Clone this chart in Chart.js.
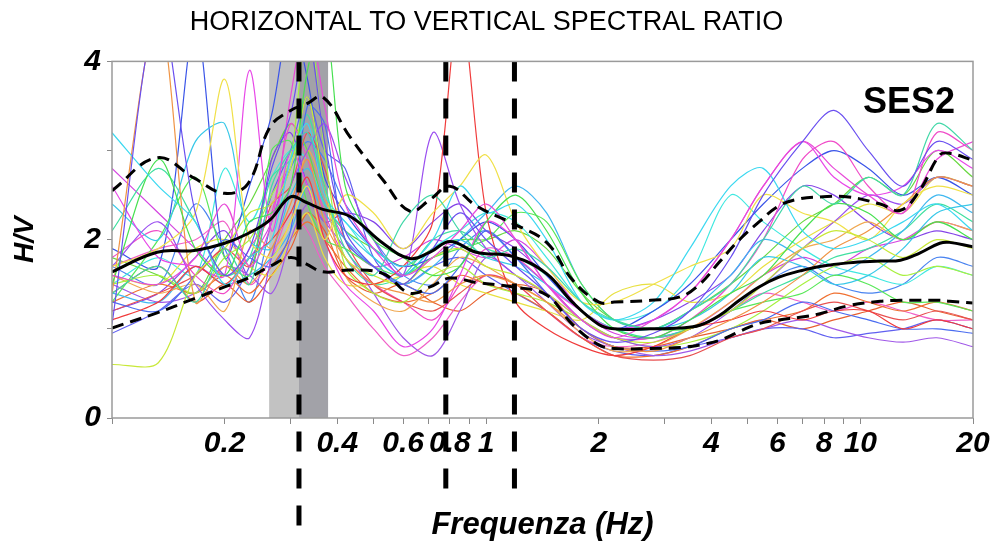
<!DOCTYPE html>
<html>
<head>
<meta charset="utf-8">
<title>H/V SES2</title>
<script src="https://cdn.jsdelivr.net/npm/chart.js@4.4.1/dist/chart.umd.min.js"></script>
<style>
    html, body { margin: 0; padding: 0; background: #fff; }
</style>
</head>
<body>
<canvas id="hvChart" width="995" height="544"></canvas>
<script>
// frequency grid of the single-window curves (Hz)
const curveHz = [0.1, 0.133, 0.167, 0.2, 0.233, 0.267, 0.3, 0.333, 0.37, 0.42, 0.5, 0.6, 0.72, 0.85, 1.0,
    1.2, 1.45, 1.8, 2.2, 2.8, 3.5, 4.5, 5.5, 7, 8.5, 10.5, 13, 16, 20];

// H/V of every window
const windowCurves = [
    [1.05, 4.6, 2.3, 1.6, 1.9, 2.8, 3.4, 4.3, 3.1, 2.1, 1.7, 1.5, 1.9, 2.3, 2.0, 1.7, 1.4, 1.0, 0.85, 0.95, 1.2, 1.8, 2.5, 3.1, 3.45, 3.0, 2.6, 3.1, 2.9],
    [1.6, 1.5, 1.8, 2.4, 1.7, 2.2, 3.6, 4.5, 3.5, 2.4, 1.9, 1.6, 1.8, 2.1, 2.4, 2.0, 1.5, 1.1, 0.9, 1.1, 1.4, 2.0, 2.6, 3.1, 2.8, 2.5, 2.3, 2.9, 3.1],
    [1.4, 1.7, 1.3, 1.9, 1.5, 2.6, 3.0, 3.2, 2.6, 1.9, 1.6, 2.2, 2.5, 2.1, 1.8, 1.9, 1.7, 1.3, 1.1, 1.0, 1.2, 1.5, 2.0, 2.6, 2.4, 2.7, 2.5, 3.3, 3.0],
    [3.2, 2.6, 2.2, 1.5, 1.8, 2.0, 2.9, 3.3, 2.5, 2.2, 1.9, 1.7, 2.0, 2.6, 2.3, 2.4, 2.0, 1.3, 1.1, 1.3, 1.9, 2.6, 2.8, 2.1, 1.9, 2.0, 2.2, 2.4, 2.1],
    [1.5, 2.9, 1.9, 1.6, 2.2, 2.3, 2.6, 3.9, 4.5, 2.6, 2.0, 1.8, 1.6, 1.7, 2.2, 2.5, 2.1, 1.4, 1.0, 0.9, 1.1, 1.4, 1.6, 2.1, 2.4, 2.3, 2.0, 2.2, 2.0],
    [0.6, 0.62, 1.6, 1.9, 2.3, 2.4, 2.8, 3.6, 2.6, 1.8, 1.6, 1.5, 1.8, 1.9, 1.7, 1.6, 1.4, 1.1, 0.9, 0.85, 1.0, 1.2, 1.5, 1.9, 2.1, 2.0, 1.8, 2.0, 1.9],
    [1.7, 1.9, 2.3, 3.8, 2.0, 1.8, 2.2, 2.6, 2.0, 2.5, 2.3, 1.9, 2.3, 2.6, 2.95, 2.2, 1.7, 1.3, 1.3, 1.5, 1.7, 1.9, 2.5, 2.3, 2.2, 2.0, 2.4, 2.6, 2.5],
    [1.4, 4.5, 1.3, 1.7, 1.5, 1.9, 2.4, 2.9, 2.2, 1.8, 1.5, 1.4, 1.3, 1.5, 1.6, 1.5, 1.3, 1.0, 0.8, 0.75, 0.9, 1.1, 1.3, 1.6, 1.9, 2.1, 2.4, 2.7, 2.6],
    [1.1, 1.3, 1.7, 1.5, 1.8, 2.0, 2.3, 2.7, 2.0, 1.6, 1.5, 1.7, 2.2, 4.6, 2.3, 1.3, 1.0, 0.8, 0.7, 0.8, 1.0, 1.1, 1.2, 1.1, 1.2, 1.2, 1.0, 1.1, 1.0],
    [2.6, 1.8, 1.7, 1.6, 3.9, 2.1, 3.0, 2.6, 2.0, 1.5, 1.2, 0.8, 1.0, 1.6, 2.2, 2.0, 1.5, 1.2, 1.0, 1.1, 1.4, 2.0, 2.6, 3.1, 2.7, 2.5, 2.6, 3.0, 2.8],
    [1.7, 2.2, 1.5, 1.1, 0.9, 1.8, 2.6, 3.0, 3.3, 2.7, 2.0, 1.6, 3.2, 2.4, 1.9, 1.6, 1.4, 1.1, 0.9, 0.8, 0.9, 1.2, 1.5, 1.9, 2.2, 2.5, 2.4, 2.7, 2.6],
    [1.3, 1.2, 1.6, 2.0, 1.8, 1.7, 2.1, 3.5, 3.3, 2.0, 1.7, 1.5, 1.4, 1.7, 2.1, 1.8, 1.4, 1.0, 0.8, 0.75, 0.8, 1.0, 1.1, 1.3, 1.2, 1.1, 1.0, 1.0, 0.95],
    [2.4, 2.0, 3.1, 3.3, 2.0, 1.9, 2.5, 2.8, 2.4, 2.1, 1.8, 1.6, 1.9, 2.0, 1.8, 1.7, 1.5, 1.2, 1.0, 1.0, 1.1, 1.4, 1.8, 1.7, 1.5, 1.6, 1.9, 2.3, 2.4],
    [1.3, 2.0, 2.7, 1.8, 1.6, 3.0, 3.1, 2.4, 2.0, 1.9, 1.7, 1.6, 1.8, 1.9, 2.0, 2.3, 2.2, 1.5, 1.1, 1.0, 1.0, 1.2, 1.3, 1.4, 1.6, 1.5, 1.3, 1.3, 1.2],
    [1.5, 1.6, 1.4, 1.8, 2.0, 2.5, 2.9, 4.5, 3.0, 1.7, 1.4, 1.3, 1.6, 1.7, 1.5, 1.4, 1.3, 1.1, 0.9, 0.8, 0.85, 1.0, 1.2, 1.5, 1.7, 1.8, 1.6, 1.7, 1.6],
    [1.6, 1.4, 1.5, 1.2, 2.1, 1.9, 2.2, 3.0, 2.5, 1.6, 1.3, 1.2, 1.5, 1.8, 1.7, 1.5, 1.3, 0.95, 0.75, 0.8, 1.0, 1.3, 1.6, 1.9, 2.0, 2.2, 2.0, 2.2, 2.1],
    [1.2, 1.4, 1.6, 1.9, 1.7, 2.4, 2.6, 3.2, 2.8, 2.0, 1.5, 1.3, 1.2, 1.4, 1.6, 1.5, 1.2, 0.9, 0.7, 0.65, 0.7, 0.9, 1.0, 1.2, 1.3, 1.2, 1.1, 1.2, 1.1],
    [1.8, 2.1, 1.6, 1.4, 1.9, 2.3, 3.3, 2.9, 2.3, 1.8, 1.5, 1.3, 1.1, 1.5, 1.9, 1.8, 1.5, 1.1, 0.9, 0.9, 1.1, 1.5, 2.0, 2.9, 3.1, 2.6, 2.3, 3.2, 3.0],
    [1.5, 1.3, 1.4, 1.7, 1.6, 1.4, 2.0, 2.4, 2.2, 1.9, 1.4, 0.9, 0.7, 1.2, 1.8, 1.6, 1.3, 0.95, 0.8, 0.7, 0.75, 0.9, 1.0, 1.1, 1.0, 0.9, 0.85, 0.9, 0.8],
    [1.9, 1.7, 4.4, 1.8, 2.6, 3.4, 4.5, 3.8, 2.7, 2.3, 1.9, 1.7, 1.8, 2.0, 2.2, 2.0, 1.6, 1.2, 1.0, 1.2, 1.5, 2.0, 2.4, 2.8, 3.0, 2.8, 2.5, 2.7, 2.5],
    [1.4, 1.3, 1.7, 1.5, 1.6, 1.8, 2.1, 2.6, 2.3, 2.0, 1.7, 1.5, 1.7, 2.0, 2.3, 2.6, 2.3, 1.5, 1.1, 1.0, 1.2, 1.6, 2.0, 1.8, 1.6, 1.8, 2.1, 2.5, 2.3],
    [2.1, 2.8, 2.2, 1.6, 1.8, 2.7, 2.9, 3.4, 2.6, 1.8, 1.5, 1.6, 2.0, 2.1, 1.9, 1.8, 1.6, 1.2, 1.0, 0.9, 1.0, 1.2, 1.4, 1.6, 1.8, 1.9, 2.1, 2.4, 2.2],
    [1.6, 1.5, 1.9, 2.0, 1.7, 1.6, 2.0, 2.3, 1.8, 1.5, 1.5, 1.6, 1.7, 1.5, 1.4, 1.3, 1.2, 1.1, 1.4, 1.5, 1.3, 1.4, 1.7, 2.0, 2.2, 2.4, 2.3, 2.7, 2.6],
    [1.3, 1.5, 1.4, 1.6, 1.4, 1.7, 2.0, 2.2, 2.0, 1.7, 1.4, 1.3, 1.4, 1.6, 1.5, 1.4, 1.2, 0.9, 0.7, 0.7, 0.8, 1.0, 1.1, 1.2, 1.4, 1.3, 1.2, 1.3, 1.2],
    [1.7, 1.9, 2.0, 2.2, 1.5, 1.8, 2.3, 2.1, 1.7, 1.4, 1.0, 0.7, 0.9, 1.3, 1.6, 1.5, 1.2, 0.9, 0.8, 0.85, 1.0, 1.2, 1.4, 1.3, 1.2, 1.3, 1.2, 1.1, 1.1],
    [1.2, 1.4, 1.8, 2.1, 1.6, 2.9, 3.2, 2.6, 2.2, 2.3, 2.2, 1.9, 2.2, 2.4, 2.1, 1.9, 1.6, 1.2, 1.0, 1.1, 1.3, 1.6, 2.1, 2.6, 2.5, 2.2, 2.0, 2.1, 2.0],
    [0.95, 1.2, 1.5, 1.3, 1.7, 2.5, 3.0, 3.6, 3.0, 2.8, 1.8, 1.5, 1.7, 1.8, 1.6, 1.4, 1.2, 0.9, 0.75, 0.7, 0.8, 0.9, 1.0, 1.0, 0.9, 0.95, 1.0, 1.1, 1.0],
    [1.5, 1.8, 1.6, 2.8, 2.2, 2.7, 3.0, 2.9, 2.4, 2.2, 1.8, 1.6, 1.9, 2.1, 2.3, 2.2, 1.8, 1.3, 1.1, 1.2, 1.6, 2.5, 2.2, 1.9, 1.7, 1.6, 1.5, 1.7, 1.6],
    [1.8, 1.6, 1.4, 2.0, 2.4, 2.9, 3.3, 3.0, 2.4, 2.1, 1.9, 1.7, 1.9, 2.0, 2.0, 2.1, 1.9, 1.4, 1.1, 1.0, 1.2, 1.5, 1.8, 2.2, 2.4, 2.7, 2.5, 3.0, 2.7],
    [1.4, 1.7, 1.3, 1.5, 1.3, 1.6, 1.9, 2.3, 2.1, 1.6, 1.4, 1.5, 1.3, 1.2, 1.4, 1.5, 1.4, 1.0, 0.8, 0.8, 0.9, 1.0, 1.1, 1.0, 1.1, 1.2, 1.3, 1.2, 1.1],
    [2.8, 2.3, 1.9, 1.6, 1.8, 2.2, 2.9, 3.2, 2.5, 2.0, 1.7, 1.8, 2.0, 1.9, 1.8, 2.0, 1.7, 1.2, 0.95, 0.9, 1.0, 1.3, 1.6, 1.8, 1.7, 1.9, 2.0, 2.2, 2.1],
    [1.7, 1.5, 2.4, 1.9, 1.3, 2.2, 2.8, 3.1, 2.9, 2.4, 2.0, 1.6, 1.5, 1.9, 2.1, 1.8, 1.5, 1.1, 0.9, 0.9, 1.0, 1.2, 1.5, 1.7, 1.5, 1.4, 1.5, 1.8, 1.7]
];

const windowColors = ['#6a4ff0', '#e84ad8', '#42d8a8', '#3cd8f0', '#46e050', '#c8e838', '#f0e048', '#f09444',
    '#f03c3c', '#e848e8', '#9a4ef0', '#4a6cf0', '#38c8e8', '#58e858', '#a8f040', '#f0a850',
    '#e85050', '#f04cc8', '#a058e8', '#3a54e8', '#40b8f0', '#40e0a0', '#e8e040', '#f07030',
    '#f060c8', '#8444e8', '#6060f0', '#40e8e0', '#68d840', '#e86030', '#d444e0', '#4a84f0'];

// average H/V and the +/- standard deviation curves
const meanHz = [0.1, 0.132, 0.166, 0.2, 0.231, 0.264, 0.3, 0.33, 0.366, 0.433, 0.53, 0.625, 0.708, 0.8, 0.94, 1.18,
    1.45, 1.7, 2.0, 2.2, 2.75, 3.3, 3.72, 4.2, 4.75, 5.36, 6.06, 6.9, 7.8, 9.3, 11.3, 12.8, 14.4, 16.3, 17.3, 20];
const meanHV = [1.64, 1.86, 1.88, 1.96, 2.07, 2.22, 2.48, 2.42, 2.34, 2.26, 1.96, 1.79, 1.86, 1.98, 1.86, 1.81,
    1.62, 1.3, 1.05, 1.0, 1.0, 1.01, 1.04, 1.15, 1.32, 1.47, 1.58, 1.65, 1.7, 1.74, 1.76, 1.77, 1.85, 1.96, 1.97, 1.92];
const upperHV = [2.55, 2.92, 2.69, 2.52, 2.63, 3.26, 3.45, 3.52, 3.6, 3.15, 2.67, 2.32, 2.45, 2.6, 2.38, 2.18,
    1.97, 1.55, 1.3, 1.3, 1.32, 1.36, 1.5, 1.75, 2.0, 2.2, 2.38, 2.46, 2.48, 2.48, 2.4, 2.33, 2.55, 2.95, 2.97, 2.89];
const lowerHV = [1.01, 1.18, 1.34, 1.47, 1.57, 1.7, 1.8, 1.73, 1.64, 1.66, 1.62, 1.4, 1.47, 1.57, 1.52, 1.47,
    1.38, 1.05, 0.82, 0.78, 0.78, 0.79, 0.82, 0.87, 0.97, 1.06, 1.1, 1.13, 1.17, 1.26, 1.31, 1.32, 1.32, 1.32, 1.31, 1.29];

// picked peak frequencies and how far (in H/V units) their markers run below the axis
const peakHz = [0.316, 0.78, 1.19];
const peakLineEnd = [-1.25, -0.86, -0.86];

// shaded band around the main peak: [from, to]
const bandLight = [0.263, 0.316];
const bandDark = [0.316, 0.378];

const xTickValues = [0.1, 0.2, 0.3, 0.4, 0.5, 0.6, 0.7, 0.8, 0.9, 1, 2, 3, 4, 5, 6, 7, 8, 9, 10, 20];
const xTickLabels = [0.2, 0.4, 0.6, 0.8, 1, 2, 4, 6, 8, 10, 20];
const yTickLabels = [0, 2, 4];

const sans = '"Liberation Sans", Arial, sans-serif';

const bandsPlugin = {
    id: 'bands',
    beforeDatasetsDraw(chart) {
        const {ctx, chartArea, scales: {x}} = chart;
        ctx.save();
        ctx.fillStyle = '#c2c2c2';
        ctx.fillRect(x.getPixelForValue(bandLight[0]), chartArea.top,
            x.getPixelForValue(bandLight[1]) - x.getPixelForValue(bandLight[0]), chartArea.height);
        ctx.fillStyle = '#a2a2a8';
        ctx.fillRect(x.getPixelForValue(bandDark[0]), chartArea.top,
            x.getPixelForValue(bandDark[1]) - x.getPixelForValue(bandDark[0]), chartArea.height);
        ctx.restore();
    }
};

const framePlugin = {
    id: 'frame',
    afterDatasetsDraw(chart) {
        const {ctx, chartArea} = chart;
        ctx.save();
        ctx.strokeStyle = '#9a9a9a';
        ctx.lineWidth = 1.5;
        ctx.strokeRect(chartArea.left, chartArea.top, chartArea.width, chartArea.height);
        ctx.fillStyle = '#000';
        ctx.font = 'bold 36px ' + sans;
        ctx.textAlign = 'right';
        ctx.textBaseline = 'alphabetic';
        ctx.fillText('SES2', chartArea.right - 18, chartArea.top + 52);
        ctx.restore();
    }
};

const datasets = [];

peakHz.forEach((f, i) => {
    datasets.push({
        data: [{x: f, y: 4}, {x: f, y: peakLineEnd[i]}],
        borderColor: '#000',
        borderWidth: 5,
        borderDash: [20, 17],
        borderCapStyle: 'butt',
        pointRadius: 0,
        clip: false,
        order: 0
    });
});

[upperHV, lowerHV].forEach(vals => {
    datasets.push({
        data: meanHz.map((f, i) => ({x: f, y: vals[i]})),
        borderColor: '#000',
        borderWidth: 3,
        borderDash: [12, 7],
        tension: 0.4,
        pointRadius: 0,
        order: 1
    });
});

datasets.push({
    data: meanHz.map((f, i) => ({x: f, y: meanHV[i]})),
    borderColor: '#000',
    borderWidth: 3,
    tension: 0.4,
    pointRadius: 0,
    order: 1
});

windowCurves.forEach((vals, k) => {
    datasets.push({
        data: curveHz.map((f, i) => ({x: f, y: vals[i]})),
        borderColor: windowColors[k % windowColors.length],
        borderWidth: 1.2,
        tension: 0.3,
        pointRadius: 0,
        order: 2
    });
});

new Chart(document.getElementById('hvChart').getContext('2d'), {
    type: 'line',
    data: {datasets},
    plugins: [bandsPlugin, framePlugin],
    options: {
        responsive: false,
        animation: false,
        layout: {padding: {left: 0, right: 22, top: 0, bottom: 0}},
        plugins: {
            legend: {display: false},
            tooltip: {enabled: false},
            title: {
                display: true,
                text: 'HORIZONTAL TO VERTICAL SPECTRAL RATIO',
                color: '#000',
                font: {family: sans, size: 27, weight: 'normal', lineHeight: 1.2},
                padding: {top: 6, bottom: 23}
            }
        },
        scales: {
            x: {
                type: 'logarithmic',
                min: 0.1,
                max: 20,
                afterFit: s => { s.height = 126; },
                afterBuildTicks: s => { s.ticks = xTickValues.map(v => ({value: v})); },
                border: {display: false},
                grid: {drawOnChartArea: false, drawTicks: true, tickLength: 6, color: '#8a8a8a'},
                ticks: {
                    autoSkip: false,
                    maxRotation: 0,
                    padding: 2,
                    color: '#000',
                    font: {family: sans, size: 30, weight: 'bold', style: 'italic'},
                    callback: v => xTickLabels.includes(v) ? String(v) : ''
                },
                title: {
                    display: true,
                    text: 'Frequenza (Hz)',
                    color: '#000',
                    font: {family: sans, size: 31, weight: 'bold', style: 'italic', lineHeight: 1},
                    padding: {top: 0, bottom: 3}
                }
            },
            y: {
                min: 0,
                max: 4,
                afterFit: s => { s.width = 112; },
                border: {display: false},
                grid: {drawOnChartArea: false, drawTicks: true, tickLength: 5, color: '#8a8a8a'},
                ticks: {
                    stepSize: 1,
                    padding: 6,
                    color: '#000',
                    font: {family: sans, size: 30, weight: 'bold', style: 'italic'},
                    callback: v => yTickLabels.includes(v) ? String(v) : ''
                },
                title: {
                    display: true,
                    text: 'H/V',
                    color: '#000',
                    font: {family: sans, size: 28, weight: 'bold', style: 'italic', lineHeight: 1.2},
                    padding: {top: 8, bottom: 0}
                }
            }
        }
    }
});
</script>
</body>
</html>
